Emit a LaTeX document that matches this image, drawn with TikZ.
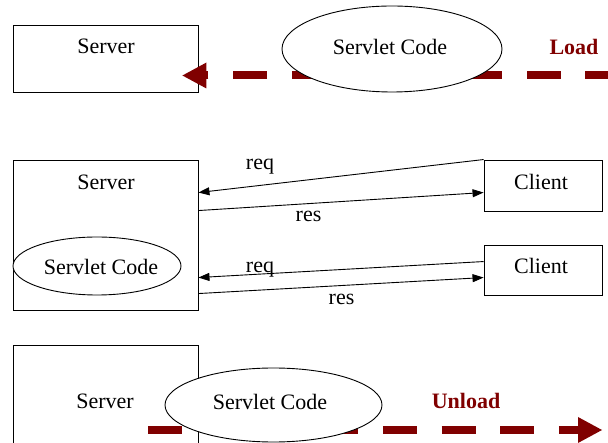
\documentclass[tikz,border=0pt]{standalone}
\usepackage{fontspec}
\setmainfont{Liberation Serif}
\usetikzlibrary{arrows.meta,shapes.geometric,calc}
\definecolor{loadred}{RGB}{128,0,0}
\begin{document}
\begin{tikzpicture}[x=1pt,y=-1pt,
  font=\fontsize{22}{26}\selectfont,
  box/.style={draw, line width=0.9pt, inner sep=0pt},
  oval/.style={ellipse, draw, fill=white, line width=0.9pt, inner sep=0pt},
  lbl/.style={inner sep=0pt},
  msg/.style={line width=0.9pt, -{Triangle[length=11pt,width=8pt]}},
  bigflow/.style={draw=loadred, line width=8pt, dash pattern=on 34pt off 24.7pt,
    -{Triangle[length=24pt,width=26pt,line width=0pt]}},
  verb/.style={lbl, text=loadred, font=\fontsize{22}{26}\selectfont\bfseries}]
\useasboundingbox (0,0) rectangle (608,443);
\clip (0,0) rectangle (608,443);

% --- loading the servlet ---
\node[box, minimum width=185pt, minimum height=67pt] (s1) at (105.5,58.5) {};
\node[lbl] (s1t) at (106,46) {Server};
\coordinate (loadsrc) at (619.2,75.5);
\coordinate (loadtip) at ($(s1.east |- loadsrc)+(-16,0)$);
\draw[bigflow] (loadsrc) -- (loadtip);
\node[oval, minimum width=220pt, minimum height=86pt] (code1) at (392,49) {};
\node[lbl] (code1t) at (390,47) {Servlet Code};
\node[verb] (load) at (574,46.5) {Load};

% --- serving requests ---
\node[box, minimum width=185pt, minimum height=150pt] (s2) at (105.5,235) {};
\node[lbl] (s2t) at (106,182) {Server};
\node[oval, minimum width=168pt, minimum height=58pt] (code2) at (97,266) {};
\node[lbl] (code2t) at (101,267) {Servlet Code};
\node[box, minimum width=118pt, minimum height=51pt] (c1) at (543,185.5) {};
\node[lbl] (c1t) at (541,182) {Client};
\node[box, minimum width=118pt, minimum height=50pt] (c2) at (543,270) {};
\node[lbl] (c2t) at (541,266) {Client};

\draw[msg] (c1.north west) -- ($(s2.north east)+(0,33)$);
\draw[msg] ($(s2.north east)+(0,51)$) -- ($(c1.north west)+(0,33)$);
\draw[msg] ($(c2.north west)+(0,17)$) -- ($(s2.north east)+(0,118)$);
\draw[msg] ($(s2.north east)+(0,134)$) -- ($(c2.north west)+(0,33)$);

\node[lbl, anchor=base] (req1) at (260,170) {req};
\node[lbl, anchor=base] (res1) at (308.5,222) {res};
\node[lbl, anchor=base] (req2) at (260,273) {req};
\node[lbl, anchor=base] (res2) at (341.5,305) {res};

% --- unloading the servlet ---
\node[box, minimum width=185pt, minimum height=125pt] (s3) at (105.5,407.5) {};
\node[lbl] (s3t) at (105,401) {Server};
\coordinate (unsrc) at (148,430);
\coordinate (untip) at (602,430);
\draw[bigflow] (unsrc) -- (untip);
\node[oval, minimum width=217pt, minimum height=74pt] (code3) at (273.5,405) {};
\node[lbl] (code3t) at (270,401.5) {Servlet Code};
\node[verb] (unload) at (466,400.5) {Unload};
\end{tikzpicture}
\end{document}
